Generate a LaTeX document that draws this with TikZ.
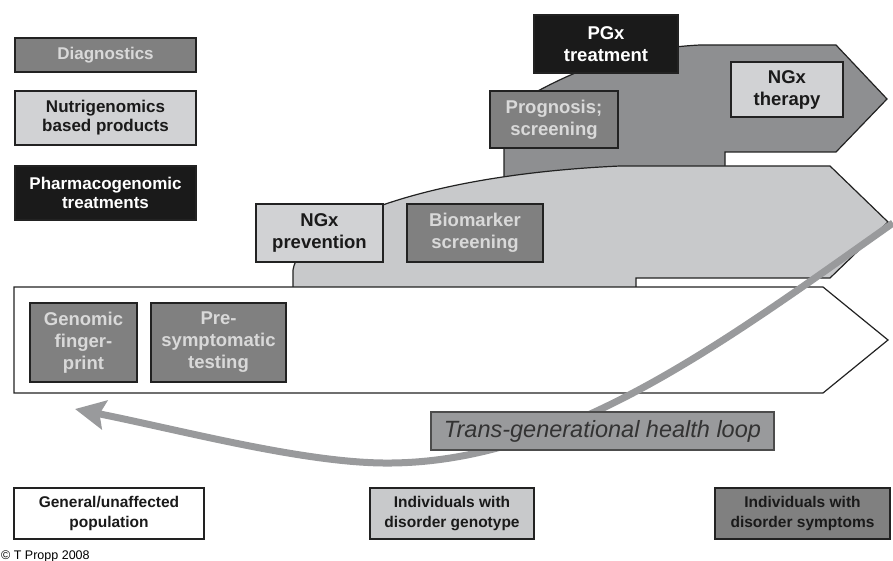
\documentclass[tikz,border=0pt]{standalone}
\usepackage{fontspec}
\setmainfont{Liberation Sans}
\usepackage{tikz}
\usetikzlibrary{arrows.meta, positioning}
\definecolor{bandDark}{HTML}{8E8F91}
\definecolor{bandLight}{HTML}{C8C9CB}
\definecolor{boxMid}{HTML}{808080}
\definecolor{boxLight}{HTML}{D1D2D4}
\definecolor{boxBlack}{HTML}{1A1A1A}
\definecolor{loopGray}{HTML}{999A9C}
\definecolor{edgeGray}{HTML}{222222}

\begin{document}
\begin{tikzpicture}[x=1pt,y=-1pt,node distance=63pt,on grid]
    \tikzstyle{box}=[draw=edgeGray,line width=1.8pt,inner sep=0pt,align=center,font=\fontsize{17}{19}\selectfont\bfseries]
    \tikzstyle{midbox}=[box,fill=boxMid,text=black!15]
    \tikzstyle{lightbox}=[box,fill=boxLight,text=boxBlack]
    \tikzstyle{blackbox}=[box,fill=boxBlack,text=white]
    \tikzstyle{inband}=[font=\fontsize{18.5}{22}\selectfont\bfseries]
    \tikzstyle{group}=[box,font=\fontsize{15.5}{20}\selectfont\bfseries]
    \tikzstyle{band}=[draw=edgeGray,line width=1.2pt,line join=miter]

    \useasboundingbox (0,0) rectangle (893,561);

    % bands
    \path[band,fill=bandDark] (504,180) -- (504,110) .. controls (540,90) and (600,50) .. (700,45)
        -- (836,45) -- (887,99) -- (836,152) -- (725,152) -- (725,180) -- cycle;
    \path[band,fill=bandLight] (293,292) -- (293,270) .. controls (300,225) and (420,175) .. (620,166)
        -- (830,166) -- (888,222) -- (830,278) -- (636,278) -- (636,292) -- cycle;
    \path[band,fill=white] (14,287) -- (823,287) -- (888,340) -- (823,393) -- (14,393) -- cycle;

    % loop
    \coordinate (loopA) at (893,223);
    \coordinate (loopB) at (383,463);
    \coordinate (loopC) at (75,409);
    \draw[loopGray,line width=7pt,-{Stealth[length=30pt,width=29pt,inset=5pt]}]
        (loopA) .. controls (720,345) and (560,465) .. (loopB)
        .. controls (300,462) and (180,430) .. (loopC);

    % legend
    \node[midbox,minimum width=181pt,minimum height=34pt] (L1) at (105.5,55) {Diagnostics};
    \node[lightbox,minimum width=181pt,minimum height=54pt,below of=L1] (L2) {Nutrigenomics\\based products};
    \node[blackbox,minimum width=181pt,minimum height=54pt,below of=L2,node distance=75pt] (L3) {Pharmacogenomic\\treatments};

    % dark band
    \node[blackbox,inband,minimum width=144pt,minimum height=58pt] (D1) at (606,44) {PGx\\treatment};
    \node[midbox,inband,minimum width=128pt,minimum height=57pt] (D2) at (554,119.5) {Prognosis;\\screening};
    \node[lightbox,inband,minimum width=112pt,minimum height=55pt] (D3) at (787,89.5) {NGx\\therapy};

    % light band
    \node[lightbox,inband,minimum width=127pt,minimum height=58pt] (B1) at (319.5,233) {NGx\\prevention};
    \node[midbox,inband,minimum width=136pt,minimum height=58pt,right of=B1,node distance=155.5pt] (B2) {Biomarker\\screening};

    % white band
    \node[midbox,inband,minimum width=107pt,minimum height=79pt] (W1) at (83.5,342.5) {Genomic\\finger-\\print};
    \node[midbox,inband,minimum width=135pt,minimum height=79pt,right of=W1,node distance=135pt] (W2) {Pre-\\symptomatic\\testing};

    \node[draw=black!70,line width=1.2pt,fill=loopGray,text=black!80,inner sep=0pt,
        minimum width=343pt,minimum height=38pt,font=\fontsize{23.5}{26}\selectfont\itshape] (loop) at (602.5,431) {Trans-generational health loop};

    % groups
    \node[group,fill=white,text=boxBlack,minimum width=190pt,minimum height=51pt] (G1) at (109,513.5) {General/unaffected\\population};
    \node[group,fill=bandLight,text=boxBlack,minimum width=164pt,minimum height=51pt] (G2) at (452,513.5) {Individuals with\\disorder genotype};
    \node[group,fill=boxMid,text=boxBlack,minimum width=175pt,minimum height=51pt] (G3) at (802.5,513.5) {Individuals with\\disorder symptoms};

    \node[anchor=west,inner sep=0pt,font=\fontsize{12.5}{14}\selectfont] (copy) at (1,556) {© T Propp 2008};
\end{tikzpicture}
\end{document}
